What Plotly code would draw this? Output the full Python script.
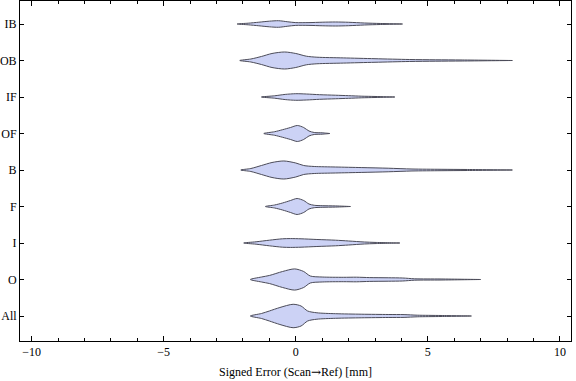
import plotly.graph_objects as go

# Categories, bottom to top
categories = ["All", "O", "I", "F", "B", "OF", "IF", "OB", "IB"]

# Density profiles: x positions (mm) and half-widths (category units)
profiles = {
    "All": ([-1.72, -1.3, -1.0, -0.6, -0.1, 0.2, 0.45, 0.8, 1.5, 2.5, 3.5, 4.1, 4.6, 5.5, 6.65],
            [0, .068, .137, .233, .321, .274, .137, .088, .063, .049, .041, .038, .022, .014, 0]),
    "O": ([-1.72, -1.3, -1.0, -0.5, -0.04, 0.3, 0.55, 1.0, 1.8, 2.3, 2.8, 3.5, 4.05, 4.5, 5.5, 7.0],
          [0, .068, .110, .219, .290, .219, .096, .068, .060, .063, .052, .047, .041, .019, .014, 0]),
    "I": ([-1.97, -1.5, -1.0, -0.5, -0.2, 0.2, 0.8, 1.5, 2.0, 2.6, 3.0, 3.94],
          [0, .033, .077, .115, .121, .115, .096, .077, .055, .027, .016, 0]),
    "F": ([-1.15, -0.8, -0.5, -0.2, 0.05, 0.3, 0.5, 0.7, 1.0, 1.5, 2.07],
          [0, .041, .096, .164, .219, .164, .068, .033, .022, .016, 0]),
    "B": ([-2.08, -1.7, -1.3, -0.9, -0.45, 0.0, 0.3, 0.7, 1.5, 2.5, 3.5, 4.4, 5.5, 6.5, 8.2],
          [0, .041, .123, .205, .247, .192, .123, .096, .082, .066, .049, .027, .019, .014, 0]),
    "OF": ([-1.21, -0.8, -0.5, -0.2, 0.06, 0.3, 0.5, 0.7, 1.0, 1.29],
           [0, .049, .104, .164, .219, .164, .068, .027, .019, 0]),
    "IF": ([-1.3, -0.8, -0.4, 0.0, 0.4, 0.9, 1.5, 2.0, 2.5, 3.0, 3.75],
           [0, .033, .071, .090, .082, .063, .049, .036, .022, .014, 0]),
    "OB": ([-2.12, -1.7, -1.3, -0.9, -0.42, 0.0, 0.4, 0.8, 1.8, 3.0, 4.3, 5.3, 6.3, 8.2],
           [0, .041, .110, .192, .233, .192, .118, .090, .071, .049, .027, .019, .014, 0]),
    "IB": ([-2.22, -1.8, -1.4, -1.0, -0.65, -0.3, 0.0, 0.5, 1.0, 1.5, 2.0, 2.6, 3.2, 4.04],
           [0, .022, .049, .077, .090, .060, .038, .038, .049, .055, .047, .027, .014, 0]),
}

x_ticks = [-10, -5, 0, 5, 10]
x_tick_labels = ["\u221210", "\u22125", "0", "5", "10"]
x_title = "Signed Error (Scan<span style='font-family:DejaVu Serif'>\u2192</span>Ref) [mm]"

FILL = "rgb(204,210,245)"
EDGE = "rgb(75,75,88)"
FONT = "Liberation Serif, DejaVu Serif, serif"

fig = go.Figure()
for i, cat in enumerate(categories):
    c = i + 1
    xs, hw = profiles[cat]
    px = list(xs) + list(reversed(xs))
    py = [c + h for h in hw] + [c - h for h in reversed(hw)]
    fig.add_trace(go.Scatter(
        x=px, y=py, mode="lines", fill="toself", fillcolor=FILL,
        line=dict(color=EDGE, width=1, shape="spline", smoothing=0.8),
        hoverinfo="skip", showlegend=False))

axis_common = dict(showline=True, linecolor="black", linewidth=1, mirror="ticks",
                   ticks="inside", tickcolor="black", showgrid=False, zeroline=False,
                   automargin=False,
                   tickfont=dict(family=FONT, size=12, color="black"))

fig.update_layout(
    width=576, height=381,
    margin=dict(l=20, r=5, t=1, b=40),
    paper_bgcolor="white", plot_bgcolor="white",
    font=dict(family=FONT, size=12, color="black"),
    xaxis=dict(range=[-10.44, 10.42], tickvals=x_ticks, ticktext=x_tick_labels,
               ticklen=5, tickwidth=1,
               minor=dict(dtick=1, ticklen=3, ticks="inside", tickcolor="black"),
               title=dict(text=x_title, font=dict(family=FONT, size=12), standoff=9),
               **axis_common),
    yaxis=dict(range=[0.315, 9.63], tickvals=list(range(1, len(categories) + 1)),
               ticktext=categories, ticklen=4, tickwidth=1, **axis_common),
)

fig.write_html("out.html", config={"displayModeBar": False},
               post_script="document.body.style.margin='0';")
